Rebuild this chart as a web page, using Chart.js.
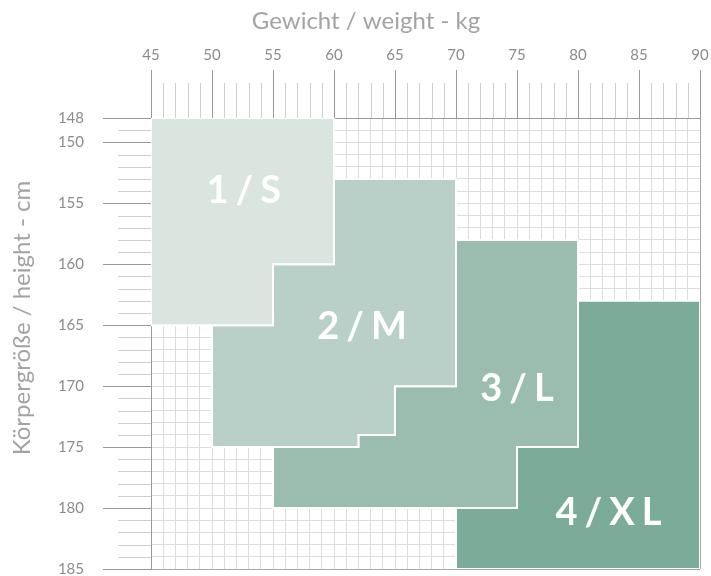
<!DOCTYPE html>
<html>
<head>
<meta charset="utf-8">
<script src="https://cdn.jsdelivr.net/npm/chart.js@4/dist/chart.umd.min.js"></script>
<style>
  html, body { margin: 0; padding: 0; background: #fff; }
  #wrap { width: 711px; height: 576px; }
</style>
</head>
<body>
<div id="wrap"><canvas id="groessen" width="711" height="576"></canvas></div>
<script>
// Achsen
const weightMin = 45, weightMax = 90;
const heightMin = 148, heightMax = 185;

// Größen und ihre Umrisse (Gewicht kg / Körpergröße cm)
const sizeNames = ['1/S', '2/M', '3/L', '4/XL'];
const sWeight = [45, 60, 60, 55, 55, 45, 45];
const sHeight = [148, 148, 160, 160, 165, 165, 148];
const mWeight = [60, 70, 70, 65, 65, 62, 62, 50, 50, 55, 55, 60, 60];
const mHeight = [153, 153, 170, 170, 174, 174, 175, 175, 165, 165, 160, 160, 153];
const lWeight = [70, 80, 80, 75, 75, 55, 55, 62, 62, 65, 65, 70, 70];
const lHeight = [158, 158, 175, 175, 180, 180, 175, 175, 174, 174, 170, 170, 158];
const xlWeight = [80, 90, 90, 70, 70, 75, 75, 80, 80];
const xlHeight = [163, 163, 185, 185, 180, 180, 175, 175, 163];

// Position der Beschriftung in Datenkoordinaten
const labelWeight = [52.6, 62.3, 75.0, 82.5];
const labelHeight = [154.0, 165.1, 170.2, 180.4];

const sizeColors = ['#dae5e0', '#b9d0c8', '#9bbdb0', '#7bac9a'];

function toPoints(xs, ys) {
    return xs.map((x, i) => ({ x: x, y: ys[i] }));
}

const outlines = [
    toPoints(sWeight, sHeight),
    toPoints(mWeight, mHeight),
    toPoints(lWeight, lHeight),
    toPoints(xlWeight, xlHeight)
];

function isMajorY(v) { return v === heightMin || v % 5 === 0; }

// kurze Hilfsstriche zwischen den Hauptmarken
const minorTicks = {
    id: 'minorTicks',
    afterDraw(chart) {
        const ctx = chart.ctx;
        const area = chart.chartArea;
        const xs = chart.scales.x, ys = chart.scales.y;
        ctx.save();
        ctx.strokeStyle = '#cfcfcf';
        ctx.lineWidth = 1;
        for (let v = weightMin; v <= weightMax; v++) {
            if (v % 5 === 0) continue;
            const px = Math.round(xs.getPixelForValue(v)) + 0.5;
            ctx.beginPath();
            ctx.moveTo(px, area.top - 35);
            ctx.lineTo(px, area.top);
            ctx.stroke();
        }
        for (let v = heightMin; v <= heightMax; v++) {
            if (isMajorY(v)) continue;
            const py = Math.round(ys.getPixelForValue(v)) + 0.5;
            ctx.beginPath();
            ctx.moveTo(area.left - 33, py);
            ctx.lineTo(area.left, py);
            ctx.stroke();
        }
        ctx.restore();
    }
};

// Größenbeschriftung und Achsentitel
const sizeLabels = {
    id: 'sizeLabels',
    afterDatasetsDraw(chart) {
        const ctx = chart.ctx;
        const xs = chart.scales.x, ys = chart.scales.y;
        const spacing = 7;
        ctx.save();
        ctx.fillStyle = '#ffffff';
        ctx.font = 'bold 38px Lato';
        ctx.letterSpacing = spacing + 'px';
        ctx.textAlign = 'left';
        ctx.textBaseline = 'middle';
        sizeNames.forEach((name, i) => {
            const w = ctx.measureText(name).width - spacing;
            const cx = xs.getPixelForValue(labelWeight[i]);
            const cy = ys.getPixelForValue(labelHeight[i]);
            ctx.fillText(name, cx - w / 2, cy);
        });
        ctx.restore();
    },
    afterDraw(chart) {
        const ctx = chart.ctx;
        ctx.save();
        ctx.fillStyle = '#a3a3a3';
        ctx.font = '24px Lato';
        ctx.textAlign = 'center';
        ctx.textBaseline = 'middle';
        ctx.fillText('Gewicht / weight - kg', 366, 21);
        ctx.translate(22, 318);
        ctx.rotate(-Math.PI / 2);
        ctx.fillText('Körpergröße / height - cm', 0, 0);
        ctx.restore();
    }
};

function createChart() {
    const ctx = document.getElementById('groessen').getContext('2d');

    new Chart(ctx, {
        type: 'line',
        data: {
            datasets: outlines.map((pts, i) => ({
                label: sizeNames[i],
                data: pts,
                fill: 'shape',
                backgroundColor: sizeColors[i],
                borderColor: '#ffffff',
                borderWidth: 2,
                borderJoinStyle: 'miter',
                pointRadius: 0,
                tension: 0
            }))
        },
        options: {
            responsive: false,
            animation: false,
            layout: { padding: { top: 0, left: 0, right: 11, bottom: 7 } },
            plugins: {
                legend: { display: false },
                tooltip: { enabled: false }
            },
            scales: {
                x: {
                    type: 'linear',
                    position: 'top',
                    min: weightMin,
                    max: weightMax,
                    afterFit(scale) {
                        scale.height = 118;
                        scale.paddingLeft = 0;
                        scale.paddingRight = 0;
                    },
                    ticks: {
                        stepSize: 1,
                        autoSkip: false,
                        maxRotation: 0,
                        padding: 6,
                        color: '#8c8c8c',
                        font: { family: 'Lato', size: 15 },
                        callback: v => (v % 5 === 0 ? v : '')
                    },
                    grid: {
                        tickLength: 48,
                        color: c => (c.tick && c.tick.value === weightMax ? '#a8a8a8' : '#dcdcdc'),
                        tickColor: c => (c.tick && c.tick.value % 5 === 0 ? '#9a9a9a' : 'rgba(0,0,0,0)')
                    },
                    border: { color: '#9a9a9a' }
                },
                y: {
                    type: 'linear',
                    reverse: true,
                    min: heightMin,
                    max: heightMax,
                    afterFit(scale) {
                        scale.width = 151;
                        scale.paddingTop = 0;
                        scale.paddingBottom = 0;
                    },
                    afterBuildTicks(scale) {
                        const t = [];
                        for (let v = heightMin; v <= heightMax; v++) t.push({ value: v });
                        scale.ticks = t;
                    },
                    ticks: {
                        autoSkip: false,
                        padding: 19,
                        color: '#8c8c8c',
                        font: { family: 'Lato', size: 15 },
                        callback: v => (isMajorY(v) ? v : '')
                    },
                    grid: {
                        tickLength: 48,
                        color: c => (c.tick && c.tick.value === heightMax ? '#a8a8a8' : '#dcdcdc'),
                        tickColor: c => (c.tick && isMajorY(c.tick.value) ? '#9a9a9a' : 'rgba(0,0,0,0)')
                    },
                    border: { color: '#9a9a9a' }
                }
            }
        },
        plugins: [minorTicks, sizeLabels]
    });
}

window.onload = createChart;
</script>
</body>
</html>
